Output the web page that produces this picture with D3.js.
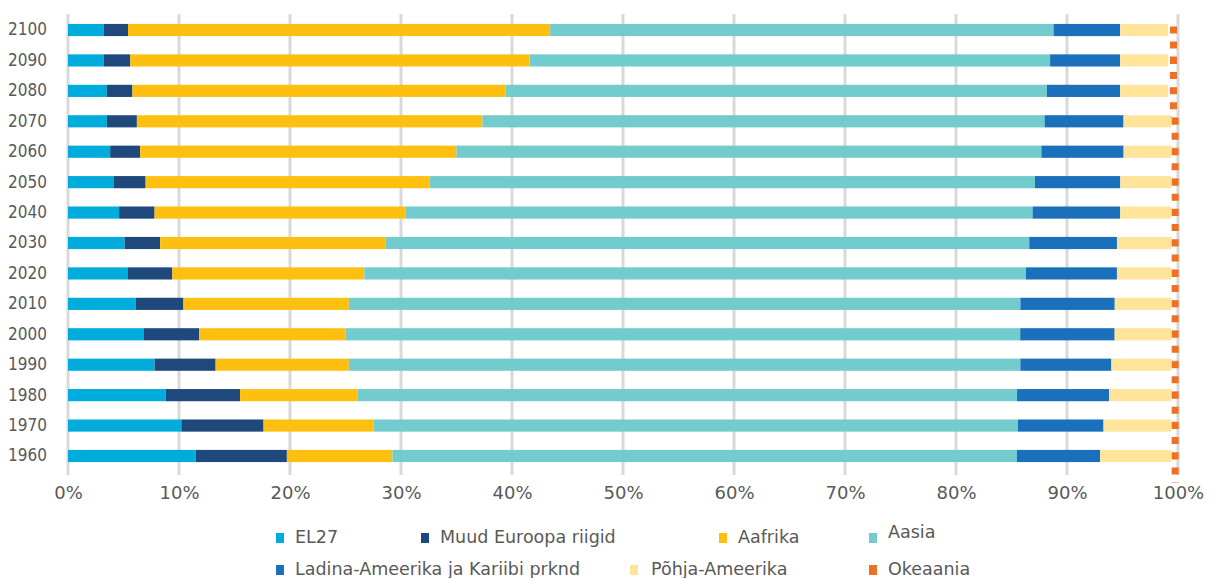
<!DOCTYPE html>
<html>
<head>
<meta charset="utf-8">
<script src="https://cdn.jsdelivr.net/npm/d3@7"></script>
<style>
  body { margin: 0; background: #fff; }
  text { font-family: "DejaVu Sans", sans-serif; fill: #595959; }
</style>
</head>
<body>
<svg id="chart" width="1213" height="578"></svg>
<script>
// rahvastiku jaotus piirkonniti, % (loetud jooniselt)
var years = ["2100", "2090", "2080", "2070", "2060", "2050", "2040", "2030",
             "2020", "2010", "2000", "1990", "1980", "1970", "1960"];
var regions = ["EL27", "Muud Euroopa riigid", "Aafrika", "Aasia",
               "Ladina-Ameerika ja Kariibi prknd", "Põhja-Ameerika", "Okeaania"];
var el27     = [3.2, 3.2, 3.5, 3.5, 3.8, 4.1, 4.6, 5.1, 5.4, 6.1, 6.8, 7.8, 8.8, 10.2, 11.5];
var muudEur  = [2.2, 2.4, 2.3, 2.7, 2.7, 2.9, 3.2, 3.2, 4.0, 4.3, 5.0, 5.5, 6.7, 7.4, 8.2];
var aafrika  = [38.0, 35.9, 33.6, 31.1, 28.5, 25.6, 22.6, 20.3, 17.3, 14.9, 13.2, 12.0, 10.6, 9.9, 9.5];
var aasia    = [45.3, 46.8, 48.7, 50.6, 52.7, 54.6, 56.5, 58.0, 59.6, 60.5, 60.7, 60.5, 59.4, 58.0, 56.2];
var ladina   = [6.0, 6.3, 6.6, 7.1, 7.4, 7.7, 7.9, 7.9, 8.2, 8.5, 8.5, 8.2, 8.3, 7.7, 7.5];
var pohja    = [4.3, 4.3, 4.3, 4.3, 4.3, 4.6, 4.6, 4.9, 4.9, 5.1, 5.1, 5.4, 5.6, 6.1, 6.4];
var okeaania = [0.9, 0.9, 0.9, 0.6, 0.6, 0.6, 0.6, 0.6, 0.6, 0.6, 0.6, 0.6, 0.6, 0.6, 0.6];
var xTicks = [0, 0.1, 0.2, 0.3, 0.4, 0.5, 0.6, 0.7, 0.8, 0.9, 1];

var colors = ["#00acdb", "#1f497d", "#fec010", "#72cbcd", "#1a70bb", "#ffe49a", "#ee7024"];

var series = [el27, muudEur, aafrika, aasia, ladina, pohja, okeaania];
var rows = years.map(function(y, i) {
    var r = {year: y};
    regions.forEach(function(name, k) { r[name] = series[k][i]; });
    return r;
});

var svg = d3.select("#chart");

var x = d3.scaleLinear().domain([0, 1]).range([68, 1178]);
var y = d3.scaleBand().domain(years).range([14.8, 471.2])
    .paddingInner(0.6).paddingOuter(0.3);

var stacked = d3.stack().keys(regions).offset(d3.stackOffsetExpand)(rows);

// vertikaalsed ruudujooned
svg.append("g").selectAll("line")
    .data(xTicks)
    .join("line")
    .attr("x1", function(d) { return x(d); })
    .attr("x2", function(d) { return x(d); })
    .attr("y1", 14)
    .attr("y2", 475)
    .attr("stroke", "#d9d9d9")
    .attr("stroke-width", 3);

// tulbad (v.a Okeaania, mis on punktiirina)
svg.append("g").selectAll("g")
    .data(stacked.slice(0, 6))
    .join("g")
    .attr("fill", function(d) { return colors[d.index]; })
    .selectAll("rect")
    .data(function(d) { return d; })
    .join("rect")
    .attr("x", function(d) { return x(d[0]); })
    .attr("width", function(d) { return x(d[1]) - x(d[0]); })
    .attr("y", function(d) { return y(d.data.year); })
    .attr("height", y.bandwidth());

var step = y.step();
svg.append("g").selectAll("line")
    .data(stacked[6])
    .join("line")
    .attr("x1", function(d) { return (x(d[0]) + x(d[1])) / 2 + 0.5; })
    .attr("x2", function(d) { return (x(d[0]) + x(d[1])) / 2 + 0.5; })
    .attr("y1", function(d) { return y(d.data.year) + y.bandwidth() / 2 - 3.5; })
    .attr("y2", function(d) { return y(d.data.year) + y.bandwidth() / 2 - 3.5 + step; })
    .attr("stroke", colors[6])
    .attr("stroke-width", 7)
    .attr("stroke-dasharray", "7 8");

// y telg
var yAxis = svg.append("g")
    .attr("transform", "translate(50,0)")
    .call(d3.axisLeft(y).tickSize(0).tickPadding(3));
yAxis.select(".domain").remove();
yAxis.selectAll("text")
    .style("font-family", "'DejaVu Sans Condensed', 'DejaVu Sans', sans-serif")
    .style("font-size", "17px")
    .attr("fill", "#595959");

// x telg
var xAxis = svg.append("g")
    .attr("transform", "translate(0,486)")
    .call(d3.axisBottom(x).tickValues(xTicks).tickFormat(d3.format(".0%")).tickSize(0).tickPadding(0));
xAxis.select(".domain").remove();
xAxis.selectAll("text")
    .attr("dy", "0.71em")
    .style("font-size", "18px")
    .attr("fill", "#595959");

// legend
var legendPos = [[276, 543], [421, 543], [719, 543], [869, 543],
                 [276, 575], [630, 575], [869, 575]];
var legend = svg.append("g").selectAll("g")
    .data(regions)
    .join("g")
    .attr("transform", function(d, i) { return "translate(" + legendPos[i][0] + "," + legendPos[i][1] + ")"; });
legend.append("rect")
    .attr("x", 0).attr("y", -10)
    .attr("width", 8).attr("height", 10)
    .attr("fill", function(d, i) { return colors[i]; });
legend.append("text")
    .attr("x", function(d, i) { return i == 5 ? 21 : 19; })
    .attr("y", function(d, i) { return i == 3 ? -5 : 0; })
    .style("font-size", "17.5px")
    .text(function(d) { return d; });
</script>
</body>
</html>
